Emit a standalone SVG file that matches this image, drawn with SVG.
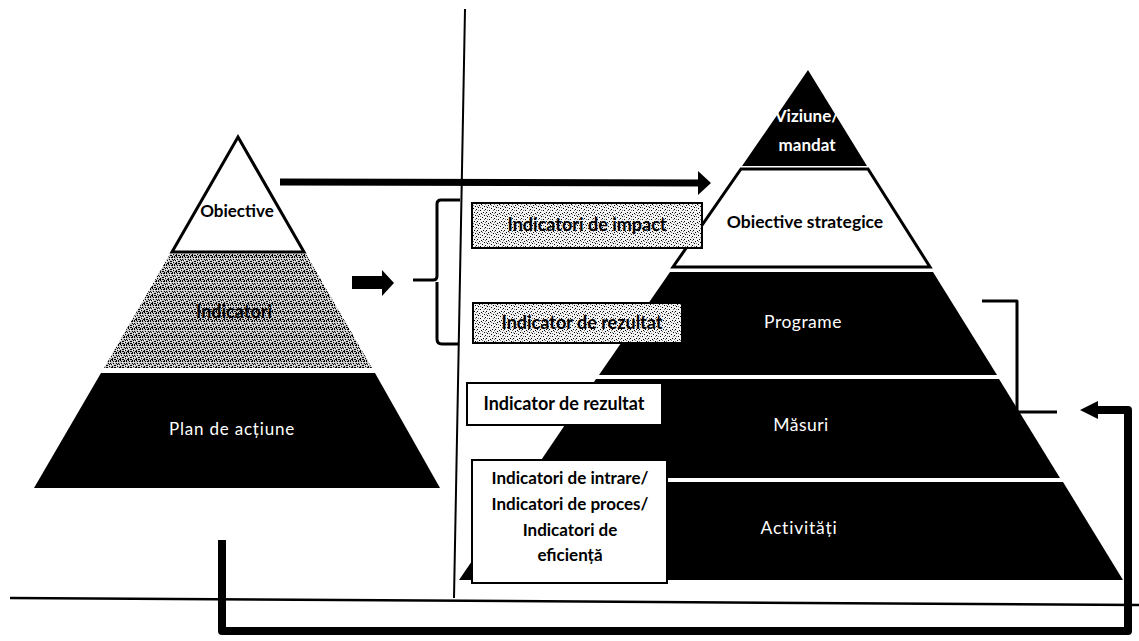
<svg xmlns="http://www.w3.org/2000/svg" width="1139" height="641" viewBox="0 0 1139 641">
<style>
.t{font-family:Lato,"Liberation Sans",Arial,sans-serif;text-anchor:middle}
.b{font-weight:bold}
.w{fill:#fff}
.k{fill:#000}
.box{stroke:#000;stroke-width:2}
.ln{fill:none;stroke:#000;stroke-linejoin:round}
</style>
<defs>
<pattern id="stipD" width="8" height="8" patternUnits="userSpaceOnUse">
<rect width="8" height="8" fill="#c4c4c4"/>
<path d="M0 0h1v1h-1zM3 1h2v1h-2zM6 0h1v2h-1zM1 3h1v1h-1zM4 3h1v1h-1zM7 4h1v1h-1zM2 5h2v1h-2zM5 6h1v1h-1zM0 6h1v2h-1zM3 7h1v1h-1zM6 3h1v1h-1zM1 1h1v1h-1zM5 4h1v1h-1zM2 7h1v1h-1zM7 7h1v1h-1zM4 0h1v1h-1z" fill="#000"/>
<path d="M2 2h1v1h-1zM5 2h1v1h-1zM0 4h1v1h-1zM6 5h1v1h-1zM4 6h1v1h-1z" fill="#fff"/>
</pattern>
<pattern id="stipL" width="9" height="9" patternUnits="userSpaceOnUse">
<rect width="9" height="9" fill="#f2f2f2"/>
<path d="M1 0h1v1h-1zM5 1h1v1h-1zM8 2h1v1h-1zM3 3h1v1h-1zM0 5h1v1h-1zM6 5h1v1h-1zM2 7h1v1h-1zM7 8h1v1h-1zM4 6h1v1h-1z" fill="#000"/>
<path d="M3 0h1v1h-1zM7 3h1v1h-1zM1 3h1v1h-1zM5 7h1v1h-1zM0 8h1v1h-1zM8 6h1v1h-1z" fill="#777"/>
</pattern>
</defs>

<g id="left-pyramid">
<g id="lp-obiective">
<polygon points="238,137 304,252 172,252" fill="#fff" stroke="#000" stroke-width="3" stroke-linejoin="miter"/>
<text class="t b k" x="237" y="217" font-size="17">Obiective</text>
</g>
<g id="lp-indicatori">
<polygon points="170,254 306,254 372,368 104,368" fill="url(#stipD)"/>
<text class="t b k" x="234" y="318" font-size="18">Indicatori</text>
</g>
<g id="lp-plan">
<polygon points="101,373 375,373 440,488 34,488" fill="#000"/>
<text class="t w" x="232" y="435" font-size="17" letter-spacing="0.8">Plan de acțiune</text>
</g>
</g>

<g id="right-pyramid">
<g id="rp-viziune">
<polygon points="808,70 867,166 742,166" fill="#000"/>
<text class="t w b" x="807" y="122" font-size="17">Viziune/</text>
<text class="t w b" x="807" y="151" font-size="17">mandat</text>
</g>
<g id="rp-obiective">
<polygon points="741,169 868,169 930,267 673,267" fill="#fff" stroke="#000" stroke-width="3"/>
<text class="t b k" x="805" y="228" font-size="17.5">Obiective strategice</text>
</g>
<g id="rp-programe">
<polygon points="670,272 933,272 997,375 599,375" fill="#000"/>
<text class="t w" x="803" y="328" font-size="17.5" letter-spacing="0.5">Programe</text>
</g>
<g id="rp-masuri">
<polygon points="596,379 999,379 1060,478 529,478" fill="#000"/>
<text class="t w" x="801" y="431" font-size="17.5" letter-spacing="0.5">Măsuri</text>
</g>
<g id="rp-activitati">
<polygon points="526,482 1063,482 1123,580 459,580" fill="#000"/>
<text class="t w" x="799" y="534" font-size="17.5" letter-spacing="0.8">Activități</text>
</g>
</g>

<g id="connectors">
<line x1="465" y1="9" x2="454" y2="598" stroke="#000" stroke-width="2"/>
<line x1="10" y1="598" x2="1139" y2="605" stroke="#000" stroke-width="2.5"/>
<line x1="280" y1="182" x2="700" y2="183" stroke="#000" stroke-width="7"/>
<polygon points="698,171 711,183 698,195" fill="#000"/>
<polygon points="352,276 382,276 382,270 394,283 382,296 382,289 352,289" fill="#000"/>
<path class="ln" stroke-width="3" d="M460,200 H441 Q437,200 437,204 V276 Q437,280 433,280 H413 M437,282 V339 Q437,344 442,344 H458"/>
<path class="ln" stroke-width="8" d="M222,540 V631 H1128 V410 H1095"/>
<polygon points="1080,410 1098,401 1098,419" fill="#000"/>
<path class="ln" stroke-width="3" d="M982,301 H1017 V412 H1057"/>
</g>

<g id="box-impact">
<rect class="box" x="472" y="203" width="230" height="45" fill="url(#stipL)"/>
<text class="t b k" x="587" y="231" font-size="18">Indicatori de impact</text>
</g>
<g id="box-rezultat-1">
<rect class="box" x="473" y="303" width="209" height="40" fill="url(#stipL)"/>
<text class="t b k" x="582" y="329" font-size="18">Indicator de rezultat</text>
</g>
<g id="box-rezultat-2">
<rect class="box" x="467" y="383" width="195" height="42" fill="#fff"/>
<text class="t b k" x="564" y="410" font-size="18">Indicator de rezultat</text>
</g>
<g id="box-intrare">
<rect class="box" x="472" y="460" width="195" height="123" fill="#fff" stroke-width="1.5"/>
<text class="t b k" x="570" y="484" font-size="17">Indicatori de intrare/</text>
<text class="t b k" x="570" y="510" font-size="17">Indicatori de proces/</text>
<text class="t b k" x="570" y="536" font-size="17">Indicatori de</text>
<text class="t b k" x="570" y="561" font-size="17">eficiență</text>
</g>
</svg>
